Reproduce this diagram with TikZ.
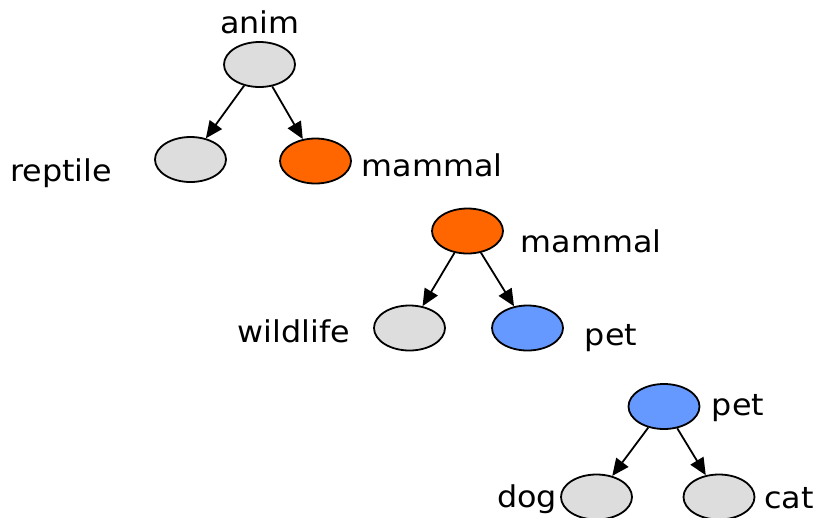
\documentclass[tikz,border=0pt]{standalone}
\usepackage{fontspec}
\setmainfont{DejaVu Sans}[FakeStretch=1.06]
\usetikzlibrary{shapes.geometric,arrows.meta}
\definecolor{nodegrey}{HTML}{DDDDDD}
\definecolor{nodeorange}{HTML}{FF6600}
\definecolor{nodeblue}{HTML}{6699FF}
\tikzset{
  treenode/.style={ellipse, draw=black, line width=1.8pt, inner sep=0pt,
    minimum width=71pt, minimum height=45pt},
  grey/.style={treenode, fill=nodegrey},
  orange/.style={treenode, fill=nodeorange},
  blue/.style={treenode, fill=nodeblue},
  lbl/.style={anchor=base, inner sep=0pt, font=\fontsize{30pt}{35pt}\selectfont},
  edge/.style={line width=1.8pt, -{Triangle[length=17pt,width=15pt]}}
}
\begin{document}
\begin{tikzpicture}[x=1pt,y=-1pt]
\useasboundingbox (0,0) rectangle (813,517);

% first level: anim -> reptile, mammal
\node[grey]   (anim)    at (259.5,64.5) {};
\node[grey]   (reptile) at (190.5,159.5) {};
\node[orange] (mammalA) at (315.5,161) {};
\node[lbl] (tAnim)    at (260,33)  {anim};
\node[lbl] (tReptile) at (61,181)  {reptile};
\node[lbl] (tMammalA) at (432,176) {mammal};
\draw[edge] (anim) -- (reptile);
\draw[edge] (anim) -- (mammalA);

% second level: mammal -> wildlife, pet
\node[orange] (mammalB)  at (467.5,231) {};
\node[grey]   (wildlife) at (409.5,328) {};
\node[blue]   (petA)     at (527.5,328) {};
\node[lbl] (tMammalB)  at (591,252) {mammal};
\node[lbl] (tWildlife) at (294,342) {wildlife};
\node[lbl] (tPetA)     at (611,345) {pet};
\draw[edge] (mammalB) -- (wildlife);
\draw[edge] (mammalB) -- (petA);

% third level: pet -> dog, cat
\node[blue] (petB) at (664,406.5) {};
\node[grey] (dog)  at (596.5,497) {};
\node[grey] (cat)  at (719,497) {};
\node[lbl] (tPetB) at (738,415) {pet};
\node[lbl] (tDog)  at (527,507) {dog};
\node[lbl] (tCat)  at (789,508) {cat};
\draw[edge] (petB) -- (dog);
\draw[edge] (petB) -- (cat);
\end{tikzpicture}
\end{document}
